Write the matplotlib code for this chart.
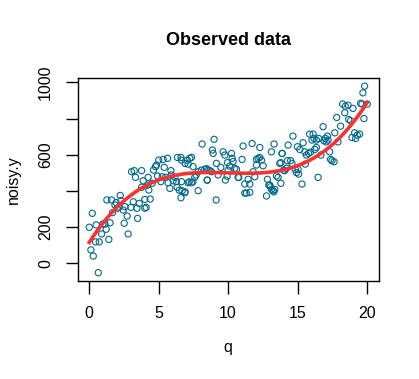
"""Observed data: noisy.y against q with a cubic fit, R base-graphics look."""

import numpy as np
import matplotlib
matplotlib.use("Agg")
import matplotlib.pyplot as plt

# points (q, noisy.y)
q = [0.0, 0.22, 0.12, 0.29, 0.65, 0.46, 0.72, 0.5, 0.89, 0.98,
     1.13, 1.22, 1.41, 1.27, 1.6, 1.5, 1.68, 1.85, 2.0, 1.94,
     2.23, 2.28, 2.13, 2.52, 2.73, 2.8, 2.57, 2.45, 3.0, 3.05,
     3.24, 3.33, 3.48, 3.43, 3.17, 3.77, 3.88, 3.77, 3.6, 4.0,
     4.0, 4.1, 4.24, 4.39, 4.29, 4.2, 4.53, 4.63, 4.77, 4.84,
     4.92, 5.0, 5.16, 5.25, 5.32, 5.4, 5.64, 5.49, 5.68, 5.88,
     5.8, 5.92, 6.04, 6.16, 6.35, 6.6, 6.33, 6.6, 6.28, 6.64,
     6.69, 6.64, 7.07, 7.24, 7.36, 6.9, 7.48, 7.12, 6.88, 7.12,
     7.36, 7.6, 7.7, 7.84, 8.08, 8.32, 8.44, 8.56, 8.68, 7.84,
     8.13, 8.49, 8.99, 8.87, 8.92, 8.8, 9.16, 9.28, 9.14, 9.47,
     9.64, 9.76, 9.81, 9.95, 10.0, 10.12, 10.24, 10.29, 10.36, 10.48,
     10.6, 10.72, 11.0, 11.08, 11.2, 11.32, 11.56, 11.2, 11.44, 11.56,
     11.73, 11.8, 11.92, 12.04, 12.04, 12.16, 12.28, 12.4, 12.28, 12.52,
     12.76, 12.83, 13.0, 13.12, 13.24, 13.36, 13.12, 13.31, 13.48, 13.6,
     13.8, 13.8, 13.9, 14.0, 13.88, 13.72, 14.07, 14.2, 14.27, 14.5,
     14.6, 14.32, 14.67, 14.84, 15.04, 14.92, 15.08, 15.32, 14.99, 15.16,
     15.4, 15.52, 15.64, 15.8, 15.94, 15.56, 15.87, 16.12, 16.19, 16.04,
     16.24, 16.36, 16.36, 16.52, 16.48, 16.68, 16.84, 16.9, 17.0, 17.15,
     17.2, 17.07, 17.31, 17.38, 17.48, 17.63, 17.68, 17.82, 17.91, 18.1,
     18.25, 18.44, 18.63, 18.99, 18.4, 18.68, 18.82, 18.92, 19.11, 19.18,
     19.3, 19.47, 19.54, 19.71, 19.83, 19.64, 19.78, 20.02,
     6.9, 7.2, 7.46, 8.5, 9.93, 10.77, 12.93, 13.05, 13.29, 6.48]
noisy_y = [199, 276, 74, 40, -52, 118, 118, 212, 162, 217,
           217, 188, 132, 350, 350, 224, 280, 322, 304, 335,
           375, 346, 309, 221, 261, 162, 313, 294, 309, 506,
           512, 475, 248, 304, 340, 512, 456, 420, 331, 353,
           304, 309, 475, 355, 405, 432, 442, 515, 534, 543,
           482, 570, 451, 478, 574, 530, 580, 475, 445, 512,
           414, 488, 456, 475, 585, 585, 420, 362, 451, 451,
           401, 570, 570, 580, 585, 552, 534, 548, 390, 445,
           445, 475, 488, 506, 515, 519, 523, 515, 512, 401,
           659, 460, 685, 626, 607, 506, 552, 488, 350, 530,
           616, 598, 460, 556, 515, 537, 607, 580, 562, 525,
           519, 475, 574, 648, 388, 388, 392, 438, 464, 438,
           662, 506, 478, 543, 574, 580, 585, 570, 640, 539,
           372, 464, 432, 408, 400, 408, 616, 659, 483, 475,
           442, 556, 607, 515, 607, 552, 512, 525, 567, 567,
           552, 653, 703, 519, 519, 501, 493, 438, 644, 629,
           666, 616, 598, 607, 614, 548, 714, 714, 690, 681,
           629, 640, 681, 690, 475, 598, 755, 677, 690, 703,
           681, 671, 616, 574, 567, 561, 721, 806, 671, 758,
           880, 868, 874, 856, 832, 795, 788, 695, 721, 690,
           708, 714, 884, 942, 979, 880, 800, 880,
           395, 450, 450, 459, 481, 474, 432, 422, 395, 404]

# fitted curve
fit_q = [0.0, 0.89, 1.6, 2.57, 3.77, 5.0, 6.16, 6.88, 10.0, 11.9,
         13.36, 14.08, 15.04, 16.48, 17.68, 18.9, 20.0]
fit_y = [101, 217, 285, 372, 414, 451, 476, 486, 497, 506,
         519, 524, 548, 585, 653, 764, 898]

x_ticks = [0, 5, 10, 15, 20]
y_ticks = [0, 200, 400, 600, 800, 1000]
y_labels = ["0", "200", "", "600", "", "1000"]

plt.rcParams["font.family"] = ["Liberation Sans", "DejaVu Sans"]

fig = plt.figure(figsize=(4.19, 3.79), dpi=100)
ax = fig.add_axes([78 / 419, 1 - 281 / 379, 300.5 / 419, 203 / 379])

ax.scatter(q, noisy_y, s=20, facecolors="none", edgecolors="#00688B",
           linewidths=0.8, zorder=2)

# smooth the read curve with a cubic, like lm(noisy.y ~ poly(q, 3))
coef = np.polyfit(fit_q, fit_y, 3)
qq = np.linspace(min(fit_q), max(fit_q), 200)
ax.plot(qq, np.polyval(coef, qq), color="#FF3030", lw=2.6, zorder=3)

ax.set_xlim(-0.81, 20.83)
ax.set_ylim(-98, 1024)
ax.set_xticks(x_ticks)
ax.set_yticks(y_ticks)
ax.set_yticklabels(y_labels, rotation=90, va="center")
ax.tick_params(direction="out", length=9, width=1, labelsize=11.5,
               pad=9, colors="black")
for s in ax.spines.values():
    s.set_linewidth(1)

ax.set_xlabel("q", fontsize=11.5, labelpad=14)
ax.set_ylabel("noisy.y", fontsize=11.5, labelpad=12)
ax.set_title("Observed data", fontsize=13, fontweight="bold", pad=24)

fig.savefig("out.png", dpi=100)
